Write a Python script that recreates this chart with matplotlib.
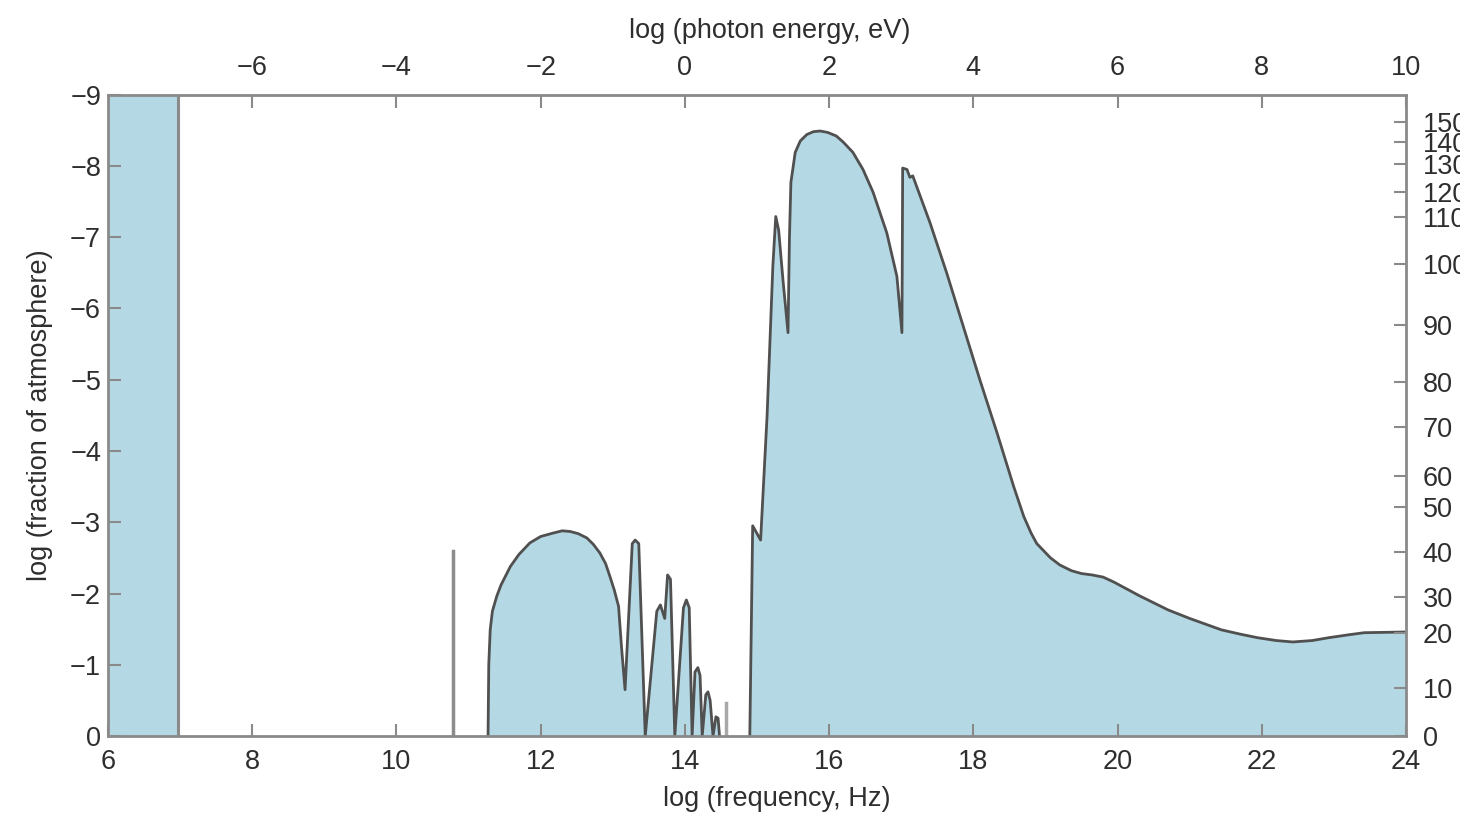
import matplotlib.pyplot as plt

plt.rcParams['font.family'] = ['Liberation Sans', 'DejaVu Sans']
plt.rcParams['font.size'] = 19.5

fill_col = '#b4d9e4'
line_col = '#505050'
frame_col = '#8a8a8a'
text_col = '#2e2e2e'

# opaque band at the low-frequency end
bar_x = [6.0, 6.97]

# lone narrow line near 10^10.8 Hz
spike_x = 10.79
spike_y = -2.59

# infrared hump and comb
hump_x = [11.27, 11.28, 11.30, 11.33, 11.39, 11.45, 11.58, 11.70, 11.85, 12.00, 12.18,
          12.30, 12.41, 12.52, 12.64, 12.73, 12.82, 12.90, 12.96, 13.02, 13.08, 13.12,
          13.17, 13.27, 13.31, 13.36, 13.45, 13.61, 13.66, 13.72, 13.76, 13.80, 13.86,
          13.98, 14.02, 14.06, 14.10, 14.14, 14.18, 14.21, 14.24, 14.29, 14.32, 14.35,
          14.39, 14.43, 14.46, 14.48]
hump_y = [0.0, -1.0, -1.49, -1.75, -1.96, -2.12, -2.38, -2.55, -2.71, -2.80, -2.85,
          -2.88, -2.87, -2.84, -2.78, -2.69, -2.57, -2.42, -2.24, -2.05, -1.82, -1.26,
          -0.65, -2.70, -2.75, -2.70, 0.0, -1.75, -1.84, -1.65, -2.26, -2.20, 0.0,
          -1.80, -1.91, -1.80, 0.0, -0.90, -0.96, -0.85, 0.0, -0.58, -0.62, -0.50,
          0.0, -0.27, -0.25, 0.0]

# small separate line at the end of the comb
spike2_x = 14.57
spike2_y = -0.46

# ultraviolet / x-ray / gamma region
main_x = [14.90, 14.94, 15.05, 15.14, 15.22, 15.26, 15.30, 15.36, 15.43, 15.45, 15.47,
          15.53, 15.60, 15.69, 15.78, 15.875, 15.98, 16.10, 16.20, 16.33, 16.47, 16.61,
          16.80, 16.94, 17.01, 17.02, 17.08, 17.12, 17.16, 17.40, 17.63, 17.86, 18.09,
          18.33, 18.56, 18.70, 18.80, 18.88, 19.07, 19.20, 19.36, 19.50, 19.65, 19.80,
          19.95, 20.30, 20.70, 21.00, 21.44, 21.70, 21.94, 22.20, 22.43, 22.70, 22.93,
          23.20, 23.42, 24.0]
main_y = [0.0, -2.95, -2.75, -4.5, -6.6, -7.29, -7.1, -6.4, -5.66, -7.00, -7.77,
          -8.19, -8.35, -8.44, -8.48, -8.49, -8.47, -8.42, -8.33, -8.19, -7.95, -7.63,
          -7.06, -6.45, -5.66, -7.97, -7.95, -7.84, -7.86, -7.20, -6.50, -5.75, -5.00,
          -4.25, -3.50, -3.08, -2.85, -2.70, -2.50, -2.40, -2.32, -2.28, -2.26, -2.23,
          -2.16, -1.97, -1.77, -1.65, -1.49, -1.43, -1.38, -1.34, -1.32, -1.34, -1.38,
          -1.42, -1.45, -1.46]

# right axis: altitude (km) against log fraction of atmosphere above
alt_km = [0, 10, 20, 30, 40, 50, 60, 70, 80, 90, 100, 110, 120, 130, 140, 150]
alt_logfrac = [0.0, -0.67, -1.45, -1.95, -2.58, -3.22, -3.65, -4.34, -4.97, -5.77,
               -6.62, -7.28, -7.63, -8.02, -8.34, -8.62]

photon_ticks = [-6, -4, -2, 0, 2, 4, 6, 8, 10]

fig = plt.figure(figsize=(14.6, 8.16), dpi=100)
ax = fig.add_axes([0.074, 0.098, 0.889, 0.786])

ax.fill_between(bar_x, 0, -9, color=fill_col, lw=0)
ax.plot([bar_x[1], bar_x[1]], [0, -9], color=frame_col, lw=2.2)

ax.plot([spike_x, spike_x], [0, spike_y], color='#8c8c8c', lw=2.5)
ax.plot([spike2_x, spike2_x], [0, spike2_y], color='#a8a8a8', lw=2.5)

ax.fill_between(hump_x, 0, hump_y, color=fill_col, lw=0)
ax.plot(hump_x, hump_y, color=line_col, lw=2.0)

ax.fill_between(main_x, 0, main_y, color=fill_col, lw=0)
ax.plot(main_x, main_y, color=line_col, lw=2.0)

ax.set_xlim(6, 24)
ax.set_ylim(0, -9)
ax.set_xticks(range(6, 25, 2))
ax.set_yticks(range(0, -10, -1))
ax.tick_params(axis='x', direction='in', length=9, width=1.5, color=frame_col,
               labelcolor=text_col, pad=9)
ax.tick_params(axis='y', direction='in', length=9, width=1.5, color=frame_col,
               labelcolor=text_col, pad=5)
for s in ax.spines.values():
    s.set_color(frame_col)
    s.set_linewidth(2)

ax.set_xlabel('log (frequency, Hz)', color=text_col, labelpad=8, x=0.515)
ax.set_ylabel('log (fraction of atmosphere)', color=text_col, labelpad=12)

top = ax.secondary_xaxis('top', functions=(lambda x: x - 14, lambda e: e + 14))
top.set_xticks(photon_ticks)
top.tick_params(direction='in', length=9, width=1.5, color=frame_col,
                labelcolor=text_col, pad=10)
top.set_xlabel('log (photon energy, eV)', color=text_col, labelpad=12, x=0.51)

ax2 = ax.twinx()
ax2.set_ylim(0, -9)
ax2.set_yticks(alt_logfrac)
ax2.set_yticklabels([str(a) for a in alt_km])
ax2.tick_params(direction='in', length=9, width=1.5, color=frame_col,
                labelcolor=text_col, pad=12)
for s in ax2.spines.values():
    s.set_visible(False)

plt.savefig('out.png', dpi=100)
